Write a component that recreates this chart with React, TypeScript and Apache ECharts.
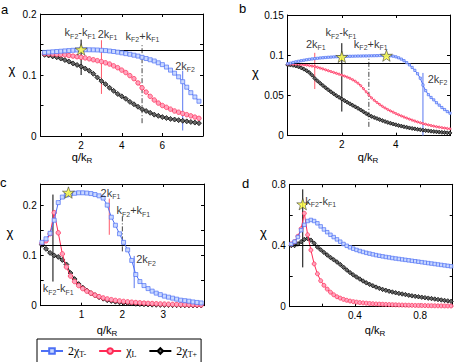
import React, { useEffect, useRef } from 'react';
import * as echarts from 'echarts';

// ---------------- data ----------------
// panel a
const xA = [0.2,0.4,0.6,0.8,1.0,1.2,1.4,1.6,1.8,2.0,2.2,2.4,2.6,2.8,3.0,3.2,3.4,3.6,3.8,4.0,4.2,4.4,4.6,4.8,5.0,5.2,5.4,5.6,5.8,6.0,6.2,6.4,6.6,6.8,7.0,7.2,7.4,7.6,7.8];
const blueA = [0.137,0.1375,0.138,0.1385,0.139,0.1395,0.140,0.1405,0.141,0.1412,0.1413,0.1413,0.1412,0.141,0.1405,0.140,0.1393,0.1385,0.1375,0.1363,0.135,0.134,0.1325,0.131,0.129,0.127,0.125,0.123,0.120,0.117,0.113,0.108,0.103,0.097,0.089,0.080,0.071,0.064,0.057];
const redA = [0.135,0.1348,0.1345,0.134,0.1335,0.133,0.132,0.131,0.130,0.129,0.128,0.1265,0.125,0.1235,0.122,0.120,0.118,0.115,0.112,0.108,0.104,0.099,0.094,0.087,0.079,0.072,0.065,0.059,0.054,0.050,0.047,0.044,0.041,0.039,0.037,0.035,0.033,0.031,0.029];
const blackA = [0.133,0.132,0.1305,0.129,0.127,0.1245,0.122,0.119,0.1165,0.114,0.1105,0.107,0.102,0.096,0.090,0.085,0.079,0.074,0.069,0.065,0.061,0.056,0.052,0.048,0.044,0.041,0.038,0.035,0.033,0.031,0.0295,0.028,0.027,0.026,0.025,0.024,0.023,0.022,0.021];

// panel b
const xB = [0,0.1,0.2,0.3,0.4,0.5,0.6,0.7,0.8,0.9,1.0,1.1,1.2,1.3,1.4,1.5,1.6,1.7,1.8,1.9,2.0,2.1,2.2,2.3,2.4,2.5,2.6,2.7,2.8,2.9,3.0,3.1,3.2,3.3,3.4,3.5,3.6,3.7,3.8,3.9,4.0,4.1,4.2,4.3,4.4,4.5,4.6,4.7,4.8,4.9,5.0,5.1,5.2,5.3,5.4,5.5,5.6,5.7,5.8,5.9,6.0];
const blueB = [0.0895,0.0902,0.0910,0.0918,0.0925,0.0932,0.0938,0.0944,0.0949,0.0954,
  0.0958,0.0962,0.0966,0.0969,0.0972,0.0975,0.0977,0.0979,0.0981,0.0983,
  0.0984,0.0985,0.0986,0.0987,0.0988,0.0989,0.0990,0.0990,0.0991,0.0991,
  0.0992,0.0993,0.0994,0.0995,0.0996,0.0997,0.0997,0.0996,0.0993,0.0988,
  0.0980,0.0968,0.0952,0.0932,0.0908,0.0880,0.0848,0.0812,0.0770,0.0715,
  0.0630,0.0560,0.0510,0.0475,0.0445,0.0410,0.0380,0.0350,0.0325,0.0300,
  0.0280];
const redB = [0.0890,0.0890,0.0889,0.0888,0.0886,0.0884,0.0881,0.0877,0.0872,0.0866,
  0.0860,0.0850,0.0840,0.0830,0.0819,0.0808,0.0797,0.0786,0.0775,0.0764,
  0.0753,0.0741,0.0728,0.0713,0.0696,0.0676,0.0652,0.0622,0.0585,0.0545,
  0.0505,0.0470,0.0440,0.0413,0.0388,0.0365,0.0344,0.0325,0.0308,0.0292,
  0.0275,0.0260,0.0246,0.0232,0.0219,0.0206,0.0194,0.0182,0.0171,0.0161,
  0.0151,0.0142,0.0134,0.0126,0.0119,0.0112,0.0106,0.0100,0.0095,0.0090,
  0.0085];
const blackB = [0.0880,0.0878,0.0874,0.0866,0.0856,0.0843,0.0827,0.0808,0.0784,0.0752,
  0.0712,0.0681,0.0652,0.0624,0.0596,0.0570,0.0545,0.0521,0.0498,0.0477,
  0.0456,0.0436,0.0416,0.0397,0.0378,0.0359,0.0340,0.0320,0.0298,0.0276,
  0.0255,0.0240,0.0226,0.0213,0.0200,0.0188,0.0176,0.0165,0.0155,0.0145,
  0.0136,0.0127,0.0119,0.0111,0.0104,0.0097,0.0091,0.0085,0.0079,0.0074,
  0.0069,0.0064,0.0060,0.0056,0.0052,0.0048,0.0045,0.0042,0.0039,0.0036,
  0.0034];

// panel c
const xC = [0.03,0.13,0.23,0.33,0.43,0.53,0.63,0.73,0.83,0.93,1.03,1.13,1.23,1.33,1.43,1.53,1.63,1.73,1.83,1.93,2.03,2.13,2.23,2.33,2.43,2.53,2.63,2.73,2.83,2.93,3.03,3.13,3.23,3.33,3.43,3.53,3.63,3.73,3.83,3.93];
const blueC = [0.126,0.133,0.144,0.170,0.205,0.216,0.220,0.222,0.2235,0.2245,
  0.2245,0.224,0.223,0.221,0.2185,0.214,0.200,0.176,0.160,0.143,
  0.126,0.111,0.090,0.062,0.048,0.040,0.034,0.029,0.025,0.022,
  0.019,0.017,0.015,0.013,0.011,0.010,0.009,0.0075,0.0065,0.0055];
const redC = [0.124,0.129,0.143,0.185,0.145,0.103,0.077,0.059,0.048,0.040,
  0.034,0.029,0.025,0.021,0.018,0.0155,0.0135,0.012,0.0105,0.0095,
  0.0085,0.0077,0.0070,0.0063,0.0057,0.0052,0.0047,0.0043,0.0039,0.0035,
  0.0032,0.0029,0.0027,0.0025,0.0023,0.0021,0.0019,0.0018,0.0016,0.0015];
const blackC = [0.121,0.113,0.105,0.100,0.097,0.091,0.082,0.065,0.053,0.043,
  0.036,0.030,0.025,0.021,0.017,0.014,0.011,0.0095,0.008,0.0068,
  0.0058,0.005,0.0043,0.0037,0.0032,0.0028,0.0024,0.0021,0.0018,0.0016,
  0.0014,0.0012,0.0011,0.001,0.0009,0.0008,0.0007,0.0006,0.0005,0.0005];

// panel d
const xD = [0.01,0.03,0.05,0.07,0.09,0.11,0.13,0.15,0.17,0.19,0.21,0.23,0.25,0.27,0.29,0.31,0.33,0.35,0.37,0.39,0.41,0.43,0.45,0.47,0.49,0.51,0.53,0.55,0.57,0.59,0.61,0.63,0.65,0.67,0.69,0.71,0.73,0.75,0.77,0.79,0.81,0.83,0.85,0.87,0.89,0.91,0.93,0.95,0.97,0.99];
const blueD = [0.41,0.425,0.455,0.50,0.535,0.56,0.567,0.56,0.545,0.525,
  0.505,0.487,0.47,0.455,0.44,0.425,0.41,0.398,0.388,0.379,
  0.371,0.364,0.358,0.352,0.347,0.342,0.337,0.333,0.329,0.325,
  0.322,0.318,0.315,0.312,0.309,0.306,0.303,0.30,0.297,0.294,
  0.291,0.288,0.285,0.282,0.279,0.276,0.273,0.27,0.267,0.264];
const redD = [0.41,0.425,0.46,0.51,0.61,0.47,0.37,0.28,0.215,0.17,
  0.14,0.115,0.095,0.078,0.065,0.056,0.048,0.042,0.037,0.033,
  0.030,0.027,0.025,0.023,0.021,0.0195,0.018,0.017,0.016,0.015,
  0.014,0.013,0.0122,0.0115,0.0108,0.0102,0.0096,0.009,0.0085,0.008,
  0.0076,0.0072,0.0068,0.0064,0.006,0.0057,0.0054,0.0051,0.0048,0.0046];
const blackD = [0.40,0.40,0.41,0.425,0.44,0.445,0.435,0.415,0.39,0.372,
  0.355,0.338,0.322,0.307,0.292,0.276,0.258,0.24,0.223,0.208,
  0.194,0.181,0.168,0.156,0.146,0.137,0.128,0.12,0.113,0.107,
  0.101,0.096,0.091,0.087,0.083,0.079,0.075,0.071,0.068,0.065,
  0.062,0.059,0.056,0.053,0.05,0.047,0.044,0.041,0.038,0.035];

// reference horizontal levels
const hLevelA = 0.1356;
const hLevelB = 0.089;
const hLevelC = 0.121;
const hLevelD = 0.4;

// vertical markers: [kind, x, yFrom, yTo]
const vA: [string, number, number, number][] = [['kdiff', 2, 0.100, 0.158], ['twoF1', 3, 0.069, 0.157], ['ksum', 5, 0.021, 0.149], ['twoF2', 7, 0.009, 0.107]];
const vB: [string, number, number, number][] = [['twoF1', 1, 0.058, 0.103], ['kdiff', 2, 0.030, 0.115], ['ksum', 3, 0.011, 0.100], ['twoF2', 5, 0, 0.078]];
const vC: [string, number, number, number][] = [['kdiff', 0.3, 0.048, 0.221], ['twoF1', 1.68, 0.141, 0.213], ['ksum', 2.0, 0.108, 0.178], ['twoF2', 2.29, 0.035, 0.099]];
const vD: [string, number, number, number][] = [['kdiff', 0.08, 0.257, 0.767]];

// marker labels: [kind, x, y]
const lA: [string, number, number][] = [['kdiff', 1.95, 0.170], ['twoF1', 3.3, 0.168], ['ksum', 5.02, 0.164], ['twoF2', 7.12, 0.115]];
const lB: [string, number, number][] = [['kdiff', 1.97, 0.1285], ['twoF1', 1.04, 0.114], ['ksum', 3.07, 0.114], ['twoF2', 5.54, 0.0705]];
const lC: [string, number, number][] = [['twoF1', 1.71, 0.2245], ['ksum', 2.27, 0.1895], ['twoF2', 2.58, 0.0925], ['kdiff', 0.43, 0.0345]];
const lD: [string, number, number][] = [['kdiff', 0.19, 0.693]];

// stars
const sA = [[2.0, 0.142]];
const sB = [[2.0, 0.098], [3.65, 0.0995]];
const sC = [[0.68, 0.225]];
const sD = [[0.08, 0.67]];

// tick labels shown
const xTicksA = [2, 4, 6];
const yTicksA = [0, 0.1, 0.2];
const xTicksB = [2, 4];
const yTicksB = [0, 0.05, 0.1, 0.15];
const xTicksC = [1, 2, 3];
const yTicksC = [0, 0.1, 0.2];
const xTicksD = [0.4, 0.8];
const yTicksD = [0, 0.4, 0.8];

const seriesNames = ['2χT-', 'χL', '2χT+'];

// ---------------- styles ----------------
const BLUE = '#4d70f5';
const BLUE_FILL = '#c9d8ff';
const RED = '#ff2a55';
const RED_FILL = '#ffa3bd';
const BLACK = '#000000';
const BLACK_FILL = '#666666';
const FONT = 'Liberation Sans, Arial, sans-serif';
const SERIF = 'Liberation Serif, Times New Roman, serif';
const STAR = 'path://M50,0 L61.8,35.1 L97.6,34.5 L69.1,56.9 L79.4,90.5 L50,70 L20.6,90.5 L30.9,56.9 L2.4,34.5 L38.2,35.1 Z';

const LABEL_TEXT: Record<string, string> = {
  kdiff: '{k|k}{s|F2}{k|-k}{s|F1}',
  ksum: '{k|k}{s|F2}{k|+k}{s|F1}',
  twoF1: '{k|2k}{s|F1}',
  twoF2: '{k|2k}{s|F2}',
};
const V_STYLE: Record<string, any> = {
  kdiff: { color: '#000', type: 'solid' },
  ksum: { color: '#444', type: [5, 2, 1, 2] },
  twoF1: { color: '#ff5a6a', type: 'solid' },
  twoF2: { color: '#5a78f0', type: 'solid' },
};
const RICH = {
  k: { fontSize: 11, fontFamily: FONT, color: '#000', lineHeight: 12 },
  s: { fontSize: 7, fontFamily: FONT, color: '#000', lineHeight: 8, padding: [8, 0, 0, 0] },
};
const LEGEND_TEXT: Record<string, string> = {
  '2χT-': '{n|2χ}{s|T-}',
  'χL': '{n|χ}{s|L}',
  '2χT+': '{n|2χ}{s|T+}',
};

const pts = (xs: number[], ys: number[]) => xs.map((x, i) => [x, ys[i]]);

const panels = [
  { grid: { left: 40.5, top: 14, width: 162.5, height: 122 }, x: { min: 0, max: 8, interval: 2, show: xTicksA }, y: { min: 0, max: 0.2, interval: 0.05, show: yTicksA },
    xs: xA, b: blueA, r: redA, k: blackA, sizes: [4, 4.5, 5], h: hLevelA, v: vA, l: lA, s: sA },
  { grid: { left: 287.7, top: 15, width: 162.3, height: 120.7 }, x: { min: 0, max: 6, interval: 2, show: xTicksB }, y: { min: 0, max: 0.15, interval: 0.05, show: yTicksB },
    xs: xB, b: blueB, r: redB, k: blackB, sizes: [2.2, 2.2, 4], h: hLevelB, v: vB, l: lB, s: sB },
  { grid: { left: 40.7, top: 184, width: 163.3, height: 121.7 }, x: { min: 0, max: 4, interval: 1, show: xTicksC }, y: { min: 0, max: 0.242, interval: 0.05, show: yTicksC },
    xs: xC, b: blueC, r: redC, k: blackC, sizes: [4, 4.5, 5], h: hLevelC, v: vC, l: lC, s: sC },
  { grid: { left: 289.7, top: 184.3, width: 163, height: 122.4 }, x: { min: 0, max: 1, interval: 0.2, show: xTicksD }, y: { min: 0, max: 0.8, interval: 0.2, show: yTicksD },
    xs: xD, b: blueD, r: redD, k: blackD, sizes: [3.5, 4, 4.5], h: hLevelD, v: vD, l: lD, s: sD },
];

const fmt = (show: number[]) => (v: number) =>
  show.some((t) => Math.abs(t - v) < 1e-9) ? String(parseFloat(v.toFixed(4))) : '';

function buildOption() {
  const grid: any[] = [];
  const xAxis: any[] = [];
  const yAxis: any[] = [];
  const series: any[] = [];
  const axisLine = { show: true, onZero: false, lineStyle: { color: '#000', width: 1 } };
  const axisTick = { show: true, inside: true, length: 3, lineStyle: { color: '#000', width: 1 } };

  panels.forEach((p, i) => {
    grid.push({ ...p.grid, containLabel: false });
    const xBase = { type: 'value', gridIndex: i, min: p.x.min, max: p.x.max, interval: p.x.interval, splitLine: { show: false }, axisLine, axisTick };
    const yBase = { type: 'value', gridIndex: i, min: p.y.min, max: p.y.max, interval: p.y.interval, splitLine: { show: false }, axisLine, axisTick };
    xAxis.push({ ...xBase, position: 'bottom', axisLabel: { show: true, formatter: fmt(p.x.show), color: '#000', fontSize: 10, fontFamily: FONT, margin: 4, showMinLabel: true, showMaxLabel: true } });
    xAxis.push({ ...xBase, position: 'top', axisLabel: { show: false } });
    yAxis.push({ ...yBase, position: 'left', axisLabel: { show: true, formatter: fmt(p.y.show), color: '#000', fontSize: 10, fontFamily: FONT, margin: 4, showMinLabel: true, showMaxLabel: true } });
    yAxis.push({ ...yBase, position: 'right', axisLabel: { show: false } });
    const xi = 2 * i;
    const yi = 2 * i;

    // vertical marker lines
    p.v.forEach(([kind, x, y0, y1]) => {
      series.push({ type: 'line', xAxisIndex: xi, yAxisIndex: yi, data: [[x, y0], [x, y1]], symbol: 'none', silent: true, z: 2,
        lineStyle: { width: 1, ...V_STYLE[kind] } });
    });

    series.push({ type: 'line', name: seriesNames[2], xAxisIndex: xi, yAxisIndex: yi, data: pts(p.xs, p.k), symbol: 'diamond', symbolSize: p.sizes[2],
      lineStyle: { color: BLACK, width: 1 }, itemStyle: { color: BLACK_FILL, borderColor: BLACK, borderWidth: 0.7 }, z: 3, silent: true });
    series.push({ type: 'line', name: seriesNames[1], xAxisIndex: xi, yAxisIndex: yi, data: pts(p.xs, p.r), symbol: 'circle', symbolSize: p.sizes[1],
      lineStyle: { color: RED, width: 1 }, itemStyle: { color: RED_FILL, borderColor: RED, borderWidth: 0.7 }, z: 4, silent: true });
    series.push({ type: 'line', name: seriesNames[0], xAxisIndex: xi, yAxisIndex: yi, data: pts(p.xs, p.b), symbol: 'rect', symbolSize: p.sizes[0],
      lineStyle: { color: BLUE, width: 1 }, itemStyle: { color: BLUE_FILL, borderColor: BLUE, borderWidth: 0.7 }, z: 5, silent: true,
      markLine: { silent: true, symbol: ['none', 'none'], label: { show: false }, lineStyle: { color: '#000', type: 'solid', width: 1 }, data: [{ yAxis: p.h }] } });

    series.push({ type: 'scatter', xAxisIndex: xi, yAxisIndex: yi, data: p.s, symbol: STAR, symbolSize: 12, symbolKeepAspect: true,
      itemStyle: { color: '#ffff3a', borderColor: '#333', borderWidth: 0.7 }, z: 10, silent: true });

    series.push({ type: 'scatter', xAxisIndex: xi, yAxisIndex: yi, data: p.l.map(([kind, x, y]) => ({ value: [x, y], name: kind })),
      symbolSize: 1, itemStyle: { color: 'rgba(0,0,0,0)' }, z: 11, silent: true,
      label: { show: true, position: 'inside', align: 'center', verticalAlign: 'middle', formatter: (q: any) => LABEL_TEXT[q.name], rich: RICH } });
  });

  const txt = (text: string, x: number, y: number, font: string, align = 'left', rich?: any) => ({
    type: 'text', x, y, silent: true,
    style: { text, x: 0, y: 0, font, fill: '#000', align, verticalAlign: 'middle', textAlign: align, textVerticalAlign: 'middle', rich },
  });
  const xRich = {
    n: { fontSize: 11, fontFamily: FONT, color: '#000', lineHeight: 12 },
    s: { fontSize: 8, fontFamily: FONT, color: '#000', lineHeight: 9, padding: [7, 0, 0, 0] },
  };
  const graphic = [
    txt('a', 1, 9, '13px ' + FONT),
    txt('b', 239, 8.5, '13px ' + FONT),
    txt('c', 0, 182, '13px ' + FONT),
    txt('d', 242, 183, '13px ' + FONT),
    txt('χ', 12, 69.5, '13px ' + FONT, 'center'),
    txt('χ', 255.5, 72.5, '13px ' + FONT, 'center'),
    txt('χ', 10, 232.5, '13px ' + FONT, 'center'),
    txt('χ', 263.5, 232.5, '13px ' + FONT, 'center'),
    txt('{n|q/k}{s|R}', 82, 157, '11px ' + FONT, 'center', xRich),
    txt('{n|q/k}{s|R}', 368, 157, '11px ' + FONT, 'center', xRich),
    txt('{n|q/k}{s|R}', 107, 330, '11px ' + FONT, 'center', xRich),
    txt('{n|q/k}{s|R}', 375, 330, '11px ' + FONT, 'center', xRich),
  ];

  return {
    animation: false,
    backgroundColor: '#fff',
    grid,
    xAxis,
    yAxis,
    series,
    graphic,
    legend: {
      data: seriesNames,
      left: 37,
      top: 339,
      orient: 'horizontal',
      itemWidth: 22,
      itemHeight: 7,
      itemGap: 12,
      padding: [5, 4, 5, 3],
      borderColor: '#000',
      borderWidth: 1,
      borderRadius: 0,
      selectedMode: false,
      formatter: (n: string) => LEGEND_TEXT[n] || n,
      textStyle: {
        color: '#000',
        rich: {
          n: { fontSize: 12, fontFamily: SERIF, color: '#000', lineHeight: 12 },
          s: { fontSize: 8, fontFamily: SERIF, color: '#000', lineHeight: 8, padding: [6, 0, 0, 0] },
        },
      },
    },
  };
}

export default function App() {
  const ref = useRef<HTMLDivElement>(null);
  useEffect(() => {
    const chart = echarts.init(ref.current!, null, { renderer: 'svg' });
    chart.setOption(buildOption() as any);
    return () => chart.dispose();
  }, []);
  return <div ref={ref} style={{ position: 'fixed', left: 0, top: 0, width: 471, height: 362 }} />;
}
